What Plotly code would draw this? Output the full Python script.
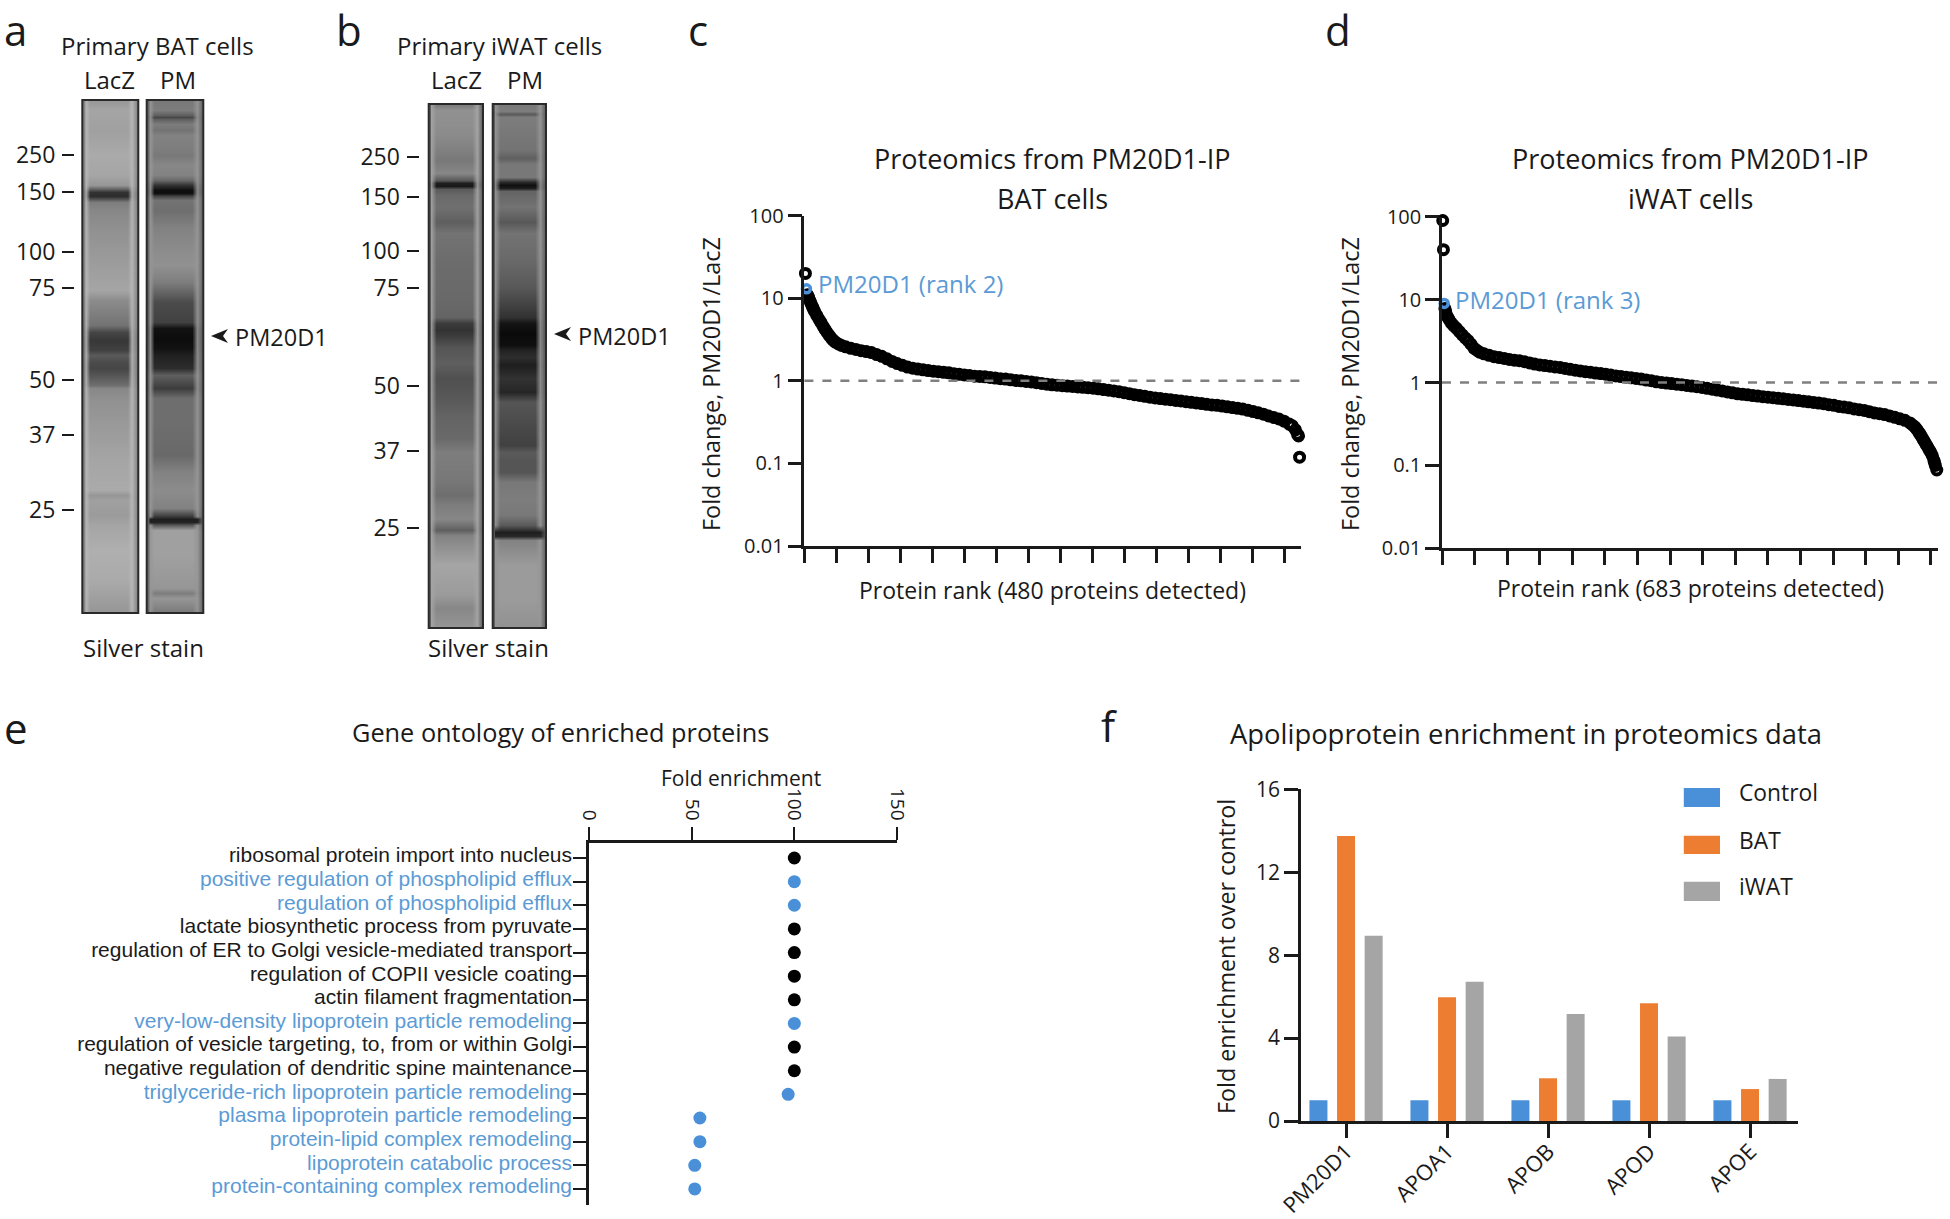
import plotly.graph_objects as go

W, H = 1950, 1219
FONT = "Open Sans"
BLACK = "#1a1a1a"
BLUE = "#4A90D9"
BLUE_TXT = "#5B9BD5"
ORANGE = "#ED7D31"
GRAY = "#A5A5A5"

# ---------- gel lanes: migration distance from lane top and gray level ----------
a1_dist = [0, 10, 30, 55, 75, 85, 88, 92, 96, 98, 102, 110, 130, 160, 190, 200, 215, 225, 232, 240, 250, 255, 262, 268, 275, 285, 288, 300, 330, 360, 390, 395, 400, 415, 425, 450, 480, 513]
a1_gray = [150, 165, 160, 170, 165, 150, 110, 50, 45, 70, 125, 135, 145, 155, 165, 140, 125, 115, 70, 55, 65, 90, 75, 70, 85, 110, 135, 145, 155, 165, 170, 150, 160, 155, 165, 175, 170, 150]
a2_dist = [0, 10, 15, 17, 19, 24, 30, 35, 50, 55, 65, 75, 80, 85, 90, 93, 96, 100, 110, 128, 150, 165, 182, 202, 222, 228, 238, 248, 255, 268, 275, 288, 298, 322, 355, 372, 390, 408, 416, 419, 422, 425, 430, 455, 488, 493, 498, 513]
a2_gray = [120, 125, 95, 70, 95, 125, 115, 130, 125, 120, 135, 130, 105, 50, 15, 15, 70, 115, 110, 130, 140, 145, 125, 75, 65, 18, 12, 18, 32, 45, 95, 60, 110, 110, 105, 130, 140, 130, 60, 30, 35, 90, 160, 160, 150, 125, 150, 120]
b1_dist = [0, 6, 29, 46, 56, 69, 76, 79, 82, 85, 91, 103, 118, 129, 156, 196, 213, 219, 226, 234, 243, 249, 259, 274, 294, 312, 334, 348, 375, 391, 401, 415, 426, 431, 461, 490, 504, 524]
b1_gray = [120, 145, 140, 128, 120, 135, 90, 30, 25, 90, 105, 112, 95, 115, 108, 105, 100, 60, 50, 65, 85, 88, 95, 80, 88, 100, 105, 125, 120, 110, 125, 135, 95, 130, 165, 155, 135, 150]
b2_dist = [0, 7, 10, 13, 46, 54, 60, 73, 78, 81, 84, 87, 103, 118, 129, 156, 183, 196, 213, 219, 229, 241, 246, 253, 261, 274, 288, 298, 318, 341, 348, 356, 368, 378, 395, 411, 421, 428, 432, 436, 461, 495, 524]
b2_gray = [120, 125, 90, 125, 115, 95, 120, 120, 40, 15, 30, 100, 115, 88, 115, 105, 88, 72, 50, 20, 10, 15, 35, 45, 30, 50, 38, 85, 75, 65, 90, 85, 85, 120, 125, 120, 90, 30, 40, 130, 155, 155, 145]

a2_full_width = [419, 422]
b2_full_width = [428, 432]

marker_a_labels = ["250", "150", "100", "75", "50", "37", "25"]
marker_a_dist = [55, 92, 151.5, 188, 279.5, 335, 409.5]
marker_b_dist = [53, 93, 146.6, 184, 282, 347, 424]

lane_across = [0.02, 0.05, 0.13, 0.5, 0.8, 0.88, 0.98]
lane_weight = [0, 0, 1, 1, 1, 0, 0]

# ---------- panels c and d ----------
c_rank = [1, 3, 4, 5, 6, 7, 8, 9, 10, 12, 14, 16, 18, 20, 22, 24, 26, 28, 30, 33, 36, 40, 45, 50, 55, 60, 65, 70, 75, 80, 85, 90, 95, 100, 105, 110, 115, 120, 125, 130, 135, 140, 145, 150, 155, 160, 165, 170, 175, 180, 185, 190, 195, 200, 205, 210, 215, 220, 225, 230, 235, 240, 245, 250, 255, 260, 265, 270, 275, 280, 285, 290, 295, 300, 305, 310, 315, 320, 325, 330, 335, 340, 345, 350, 355, 360, 365, 370, 375, 380, 385, 390, 395, 400, 405, 410, 415, 420, 425, 430, 435, 440, 445, 450, 455, 460, 465, 470, 473, 476, 478, 479, 480]
c_fold = [20, 11, 10.3, 9.5, 8.9, 8.3, 7.8, 7.3, 6.9, 6.2, 5.6, 5.1, 4.6, 4.2, 3.85, 3.55, 3.3, 3.1, 2.95, 2.8, 2.68, 2.58, 2.48, 2.4, 2.32, 2.26, 2.2, 2.08, 1.98, 1.85, 1.72, 1.62, 1.54, 1.47, 1.42, 1.39, 1.36, 1.33, 1.31, 1.29, 1.27, 1.25, 1.22, 1.2, 1.18, 1.16, 1.14, 1.13, 1.12, 1.1, 1.08, 1.06, 1.05, 1.03, 1.01, 1.0, .985, .97, .95, .93, .91, .895, .885, .875, .865, .855, .845, .835, .825, .815, .8, .785, .77, .755, .74, .72, .7, .68, .665, .65, .635, .62, .61, .6, .59, .58, .57, .56, .55, .54, .53, .52, .51, .505, .495, .485, .475, .465, .455, .44, .425, .41, .395, .375, .36, .345, .325, .3, .285, .255, .225, .215, .119]
c_hit_rank = [2]
c_hit_fold = [13]
c_ticks = [0, 31, 62, 93, 124, 155, 186, 217, 248, 279, 310, 341, 372, 403, 434, 465]

d_rank = [1, 2, 4, 5, 6, 8, 10, 13, 16, 20, 24, 28, 32, 36, 40, 44, 48, 52, 58, 65, 72, 79, 86, 93, 100, 107, 114, 121, 128, 135, 142, 149, 156, 163, 170, 177, 184, 191, 198, 205, 212, 219, 226, 233, 240, 247, 254, 261, 268, 275, 282, 289, 296, 303, 310, 317, 324, 331, 338, 345, 352, 359, 366, 373, 380, 387, 394, 401, 408, 415, 422, 429, 436, 443, 450, 457, 464, 471, 478, 485, 492, 499, 506, 513, 520, 527, 534, 541, 548, 555, 562, 569, 576, 583, 590, 597, 604, 611, 618, 625, 632, 639, 646, 650, 653, 655, 657, 659, 661, 663, 665, 667, 669, 671, 673, 675, 677, 679, 680, 681, 683]
d_fold = [90, 40, 7.8, 7.2, 6.6, 6.1, 5.7, 5.2, 4.85, 4.5, 4.1, 3.75, 3.45, 3.2, 2.9, 2.6, 2.45, 2.32, 2.22, 2.13, 2.05, 2.0, 1.95, 1.9, 1.86, 1.83, 1.78, 1.72, 1.67, 1.63, 1.6, 1.57, 1.54, 1.52, 1.48, 1.44, 1.41, 1.38, 1.35, 1.33, 1.3, 1.28, 1.26, 1.23, 1.2, 1.18, 1.16, 1.14, 1.12, 1.1, 1.07, 1.05, 1.02, 1.0, .985, .97, .955, .94, .92, .905, .89, .87, .85, .83, .81, .79, .77, .75, .73, .72, .71, .695, .685, .675, .665, .655, .645, .635, .625, .615, .605, .595, .585, .575, .565, .555, .54, .53, .515, .505, .495, .48, .47, .46, .445, .43, .42, .41, .395, .38, .365, .35, .325, .305, .29, .275, .26, .245, .23, .215, .2, .187, .175, .163, .152, .142, .13, .115, .108, .1, .088]
d_hit_rank = [3]
d_hit_fold = [9]
d_ticks = [0, 45, 90, 135, 180, 225, 270, 315, 360, 405, 450, 495, 540, 585, 630, 675]

log_ticks = [0.01, 0.1, 1, 10, 100]
log_labels = ["0.01", "0.1", "1", "10", "100"]

# ---------- panel e ----------
go_terms = ["ribosomal protein import into nucleus", "positive regulation of phospholipid efflux", "regulation of phospholipid efflux", "lactate biosynthetic process from pyruvate", "regulation of ER to Golgi vesicle-mediated transport", "regulation of COPII vesicle coating", "actin filament fragmentation", "very-low-density lipoprotein particle remodeling", "regulation of vesicle targeting, to, from or within Golgi", "negative regulation of dendritic spine maintenance", "triglyceride-rich lipoprotein particle remodeling", "plasma lipoprotein particle remodeling", "protein-lipid complex remodeling", "lipoprotein catabolic process", "protein-containing complex remodeling"]
go_enrich = [100, 100, 100, 100, 100, 100, 100, 100, 100, 100, 97, 54, 54, 51.5, 51.5]
go_lipid = [0, 1, 1, 0, 0, 0, 0, 1, 0, 0, 1, 1, 1, 1, 1]

# ---------- panel f ----------
apo_names = ["PM20D1", "APOA1", "APOB", "APOD", "APOE"]
apo_control = [1, 1, 1, 1, 1]
apo_bat = [13.75, 5.97, 2.06, 5.68, 1.54]
apo_iwat = [8.94, 6.72, 5.16, 4.07, 2.03]


def X(px):
    return px / W


def Y(px):
    return 1 - px / H


def dom_x(a, b):
    return [X(a), X(b)]


def dom_y(top, bottom):
    return [Y(bottom), Y(top)]


annotations = []
shapes = []


def text(x, y, s, size=20, color=BLACK, anchor="center", angle=0):
    annotations.append(dict(x=X(x), y=Y(y), xref="paper", yref="paper", text=s, showarrow=False,
                            font=dict(family=FONT, size=size, color=color), xanchor=anchor,
                            yanchor="middle", textangle=angle))


def rect(x0, y0, x1, y1, fill=None, line=None, lw=0):
    shapes.append(dict(type="rect", xref="paper", yref="paper", x0=X(x0), x1=X(x1), y0=Y(y0), y1=Y(y1),
                       fillcolor=fill or "rgba(0,0,0,0)", line=dict(color=line or "rgba(0,0,0,0)", width=lw)))


def arrowhead(x, y):
    pts = [(x, y), (x + 17, y - 7), (x + 12, y), (x + 17, y + 7)]
    path = "M " + " L ".join(f"{X(a)} {Y(b)}" for a, b in pts) + " Z"
    shapes.append(dict(type="path", xref="paper", yref="paper", path=path, fillcolor=BLACK, line=dict(width=0)))


fig = go.Figure()
layout = {}


def lane(dist, gray, edge, border, xname, yname, full_width=()):
    z = []
    for d, g in zip(dist, gray):
        row = []
        for i, w in enumerate(lane_weight):
            base = border if i in (0, 6) else edge
            if d in full_width and i != 0 and i != 6:
                w = 1
            row.append(w * g + (1 - w) * (base + 0.12 * (g - base)))
        z.append(row)
    fig.add_trace(go.Heatmap(x=lane_across, y=dist, z=z, zmin=0, zmax=255, zsmooth="best", showscale=False,
                             colorscale=[[0, "rgb(0,0,0)"], [1, "rgb(255,255,255)"]], xaxis=xname, yaxis=yname,
                             hoverinfo="skip"))


def lane_x(a, b):
    return dict(domain=dom_x(a, b), range=[0, 1], showticklabels=False, ticks="", showline=False, showgrid=False,
                zeroline=False, automargin=False)


def lane_y(top, bottom, maxd, vals, tick_x):
    return dict(domain=dom_y(top, bottom), range=[maxd, 0], anchor="free", position=X(tick_x), side="left",
                tickvals=vals, ticktext=marker_a_labels, ticks="outside", ticklen=12, tickwidth=2, tickcolor=BLACK,
                showline=False, showgrid=False, zeroline=False, automargin=False, ticklabelstandoff=2,
                tickfont=dict(family=FONT, size=23, color=BLACK))


# panel a
lane(a1_dist, a1_gray, 185, 120, "x", "y")
lane(a2_dist, a2_gray, 150, 100, "x2", "y", a2_full_width)
layout["xaxis"] = lane_x(82.3, 138.3)
layout["xaxis2"] = lane_x(146.7, 203.3)
layout["yaxis"] = lane_y(100, 613, 513, marker_a_dist, 74)
rect(82.3, 100, 138.3, 613, line="#2a2a2a", lw=2)
rect(146.7, 100, 203.3, 613, line="#2a2a2a", lw=2)

# panel b
lane(b1_dist, b1_gray, 165, 90, "x3", "y3")
lane(b2_dist, b2_gray, 150, 90, "x4", "y3", b2_full_width)
layout["xaxis3"] = lane_x(428.7, 483)
layout["xaxis4"] = lane_x(492.7, 546)
layout["yaxis3"] = lane_y(104, 628, 524, marker_b_dist, 418.5)
rect(428.7, 104, 483, 628, line="#2a2a2a", lw=2)
rect(492.7, 104, 546, 628, line="#2a2a2a", lw=2)

text(157, 46, "Primary BAT cells", 24)
text(109, 80, "LacZ", 24)
text(178, 80, "PM", 24)
text(143, 647, "Silver stain", 24)
text(233, 337, "PM20D1", 23.5, anchor="left")
arrowhead(211, 336)
text(499, 46, "Primary iWAT cells", 24)
text(456, 80, "LacZ", 24)
text(525, 80, "PM", 24)
text(489, 647, "Silver stain", 24)
text(576, 336, "PM20D1", 23.5, anchor="left")
arrowhead(554, 334)


def rank_panel(rank, fold, hit_r, hit_f, ticks, xa, ya, x0, x1, top, bottom, xmax):
    fig.add_trace(go.Scatter(x=rank, y=fold, mode="markers", xaxis=xa, yaxis=ya, cliponaxis=False, showlegend=False,
                             marker=dict(symbol="circle-open", size=9, color="black", line=dict(width=4, color="black"))))
    fig.add_trace(go.Scatter(x=hit_r, y=hit_f, mode="markers", xaxis=xa, yaxis=ya, cliponaxis=False, showlegend=False,
                             marker=dict(symbol="circle-open", size=8, color=BLUE, line=dict(width=3.5, color=BLUE))))
    suffix = xa[1:]
    layout["xaxis" + suffix] = dict(domain=dom_x(x0, x1), range=[0, xmax], tickvals=ticks, showticklabels=False,
                                    ticks="outside", ticklen=14, tickwidth=2.5, tickcolor=BLACK, showline=True,
                                    linecolor=BLACK, linewidth=2.5, showgrid=False, zeroline=False, anchor=ya,
                                    automargin=False)
    layout["yaxis" + suffix] = dict(domain=dom_y(top, bottom), type="log", range=[-2, 2], tickvals=log_ticks,
                                    ticktext=log_labels, ticks="outside", ticklen=14, tickwidth=2.5, tickcolor=BLACK,
                                    showline=True, linecolor=BLACK, linewidth=2.5, showgrid=False, zeroline=False,
                                    anchor=xa, automargin=False, tickfont=dict(family=FONT, size=20, color=BLACK))


rank_panel(c_rank, c_fold, c_hit_rank, c_hit_fold, c_ticks, "x5", "y5", 804.4, 1300.6, 215.7, 546, 481)
rank_panel(d_rank, d_fold, d_hit_rank, d_hit_fold, d_ticks, "x6", "y6", 1442, 1937.5, 216.7, 548.3, 684)
for yref, a, b in (("y5", 804.4, 1308), ("y6", 1442, 1945)):
    shapes.append(dict(type="line", xref="paper", yref=yref, x0=X(a), x1=X(b), y0=1, y1=1,
                       line=dict(color="#808080", width=2.5, dash="dash")))

text(1052, 158, "Proteomics from PM20D1-IP", 27)
text(1052, 199, "BAT cells", 27)
text(1690, 158, "Proteomics from PM20D1-IP", 27)
text(1690, 199, "iWAT cells", 27)
text(711, 384, "Fold change, PM20D1/LacZ", 23.4, angle=-90)
text(1350, 384, "Fold change, PM20D1/LacZ", 23.4, angle=-90)
text(1052.5, 590, "Protein rank (480 proteins detected)", 23)
text(1690.6, 588, "Protein rank (683 proteins detected)", 23)
text(816, 283, "PM20D1 (rank 2)", 24, BLUE_TXT, anchor="left")
text(1453, 300, "PM20D1 (rank 3)", 24, BLUE_TXT, anchor="left")

# panel e
for flag, color in ((0, "black"), (1, BLUE)):
    fig.add_trace(go.Scatter(x=[v for v, f in zip(go_enrich, go_lipid) if f == flag],
                             y=[t for t, f in zip(go_terms, go_lipid) if f == flag],
                             mode="markers", xaxis="x7", yaxis="y7", showlegend=False, cliponaxis=False,
                             marker=dict(size=13, color=color)))
term_text = [f'<span style="color:{BLUE_TXT if f else BLACK}">{t}</span>' for t, f in zip(go_terms, go_lipid)]
layout["xaxis7"] = dict(domain=dom_x(589, 897), range=[0, 150], side="top", anchor="y7", tickvals=[0, 50, 100, 150],
                        ticks="outside", ticklen=13, tickwidth=2, tickcolor=BLACK, tickangle=90, showline=True,
                        linecolor=BLACK, linewidth=2.5, showgrid=False, zeroline=False, automargin=False,
                        tickfont=dict(family=FONT, size=19, color=BLACK))
layout["yaxis7"] = dict(domain=dom_y(843, 1205), type="category", categoryorder="array", categoryarray=go_terms,
                        range=[14.68, -0.634], tickvals=go_terms, ticktext=term_text, anchor="x7",
                        ticks="outside", ticklen=13, tickwidth=2, tickcolor=BLACK, showline=True, linecolor=BLACK,
                        linewidth=2.5, showgrid=False, zeroline=False, automargin=False, ticklabelstandoff=-3,
                        ticklabelshift=3, tickfont=dict(family="Liberation Sans", size=21, color=BLACK))
text(560, 732, "Gene ontology of enriched proteins", 25.3)
text(741, 778, "Fold enrichment", 21)

# panel f
for name, vals, color in (("Control", apo_control, BLUE), ("BAT", apo_bat, ORANGE), ("iWAT", apo_iwat, GRAY)):
    fig.add_trace(go.Bar(x=apo_names, y=vals, name=name, marker=dict(color=color, line=dict(width=0)), xaxis="x8",
                         yaxis="y8", showlegend=False))
layout["xaxis8"] = dict(domain=dom_x(1300.9, 1797.7), type="category", range=[-0.447, 4.472], anchor="y8",
                        ticks="outside", ticklen=14, tickwidth=2.5, tickcolor=BLACK, tickangle=-45, showline=True,
                        linecolor=BLACK, linewidth=3, showgrid=False, zeroline=False, automargin=False,
                        ticklabelstandoff=-8, tickfont=dict(family=FONT, size=22, color=BLACK))
layout["yaxis8"] = dict(domain=dom_y(789.3, 1121), range=[0, 16], tickvals=[0, 4, 8, 12, 16], anchor="x8",
                        ticks="outside", ticklen=14, tickwidth=2.5, tickcolor=BLACK, showline=True, linecolor=BLACK,
                        linewidth=2.5, showgrid=False, zeroline=False, automargin=False,
                        tickfont=dict(family=FONT, size=21, color=BLACK))
text(1526, 733, "Apolipoprotein enrichment in proteomics data", 27.4)
text(1226, 957, "Fold enrichment over control", 23.3, angle=-90)
for name, color, top, bottom, mid in (("Control", BLUE, 788, 807, 793), ("BAT", ORANGE, 835.7, 854, 840),
                                      ("iWAT", GRAY, 881.7, 901, 886)):
    rect(1683.8, top, 1720, bottom, fill=color)
    text(1737, mid, name, 22.8, anchor="left")

# panel letters
for s, x, y in (("a", 15, 30), ("b", 349, 30), ("c", 698, 30), ("d", 1338, 30), ("e", 16, 727), ("f", 1109, 725)):
    text(x, y, s, 42)

fig.update_layout(width=W, height=H, margin=dict(l=0, r=0, t=0, b=0), paper_bgcolor="white", plot_bgcolor="white",
                  barmode="group", bargap=0.18, bargroupgap=0.348, showlegend=False, annotations=annotations,
                  shapes=shapes, **layout)
fig.write_html("out.html", config={"displayModeBar": False}, post_script="document.body.style.margin='0';")
